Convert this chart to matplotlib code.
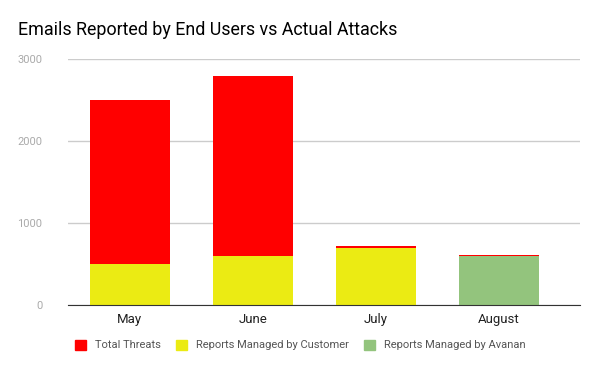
import matplotlib
matplotlib.use("Agg")
import matplotlib.pyplot as plt
from matplotlib.patches import Patch
import numpy as np

months = ["May", "June", "July", "August"]
by_customer = [500, 600, 700, 0]
by_avanan = [0, 0, 0, 600]
total_threats = [2000, 2190, 20, 10]

plt.rcParams['font.family'] = ['Roboto', 'DejaVu Sans']

fig = plt.figure(figsize=(6, 3.71), dpi=100)
ax = fig.add_axes([68/600, 1 - 305/371, (580-68)/600, (305-59)/371])

x = np.arange(len(months))
w = 0.65
ax.bar(x, by_customer, w, color="#ebeb13", zorder=3)
ax.bar(x, by_avanan, w, bottom=by_customer, color="#93c47d", zorder=3)
bottom2 = np.array(by_customer) + np.array(by_avanan)
ax.bar(x, total_threats, w, bottom=bottom2, color="#ff0000", zorder=3)

ax.set_xlim(-0.5, 3.66)
ax.set_ylim(0, 3000)
ax.set_yticks([0, 1000, 2000, 3000])
ax.set_xticks(x)
ax.set_xticklabels(months, fontsize=9.5, color="#222222")
ax.tick_params(axis='y', labelsize=8, colors="#aaaaaa", length=0, pad=18.5)
ax.tick_params(axis='x', length=0, pad=6)
ax.grid(axis='y', color="#cccccc", linewidth=1, zorder=0)
for s in ['top', 'right', 'left']:
    ax.spines[s].set_visible(False)
ax.spines['bottom'].set_color("#333333")
ax.spines['bottom'].set_zorder(4)

fig.text(18/600, 1 - 30/371, "Emails Reported by End Users vs Actual Attacks",
         fontsize=12.9, color="#000000", va='center')

handles = [Patch(color="#ff0000"), Patch(color="#ebeb13"), Patch(color="#93c47d")]
labels = ["Total Threats", "Reports Managed by Customer", "Reports Managed by Avanan"]
fig.legend(handles, labels, loc='center', bbox_to_anchor=(0.5, 1 - 345/371), ncol=3,
           frameon=False, fontsize=8, labelcolor="#555555", handlelength=1.0,
           handleheight=1.0, columnspacing=1.35, handletextpad=0.8)

fig.savefig("out.png", dpi=100)
